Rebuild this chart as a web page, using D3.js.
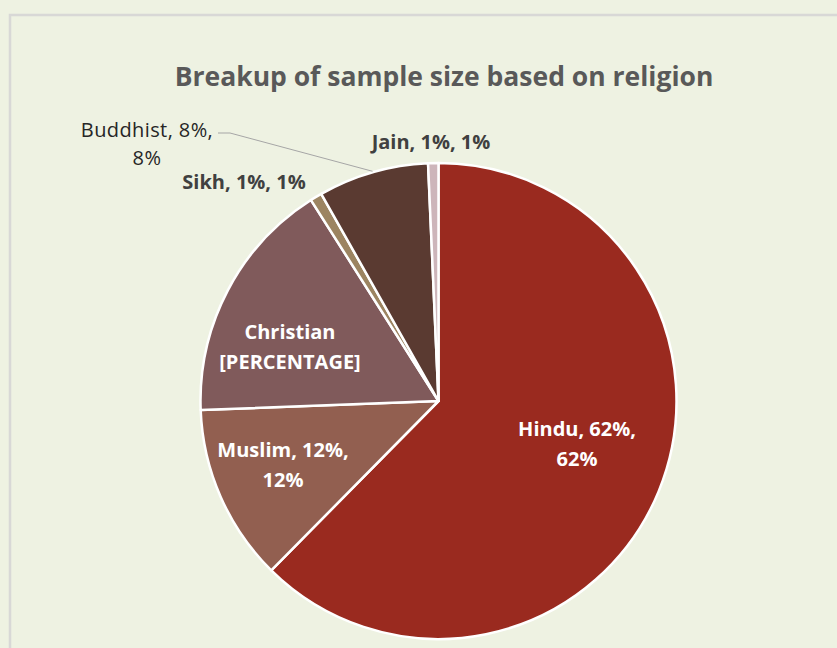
<!DOCTYPE html>
<html><head><meta charset="utf-8">
<script src="https://cdn.jsdelivr.net/npm/d3@7"></script>
<style>
html,body{margin:0;padding:0;background:#eef2e2;}
svg{display:block;}
</style></head>
<body>
<svg id="chart" width="837" height="648"></svg>
<script>
const categories = ["Hindu","Muslim","Christian","Sikh","Buddhist","Jain"];
const values = [62.4, 12.0, 16.6, 0.8, 7.5, 0.7];
const labelLines = [
  ["Hindu, 62%,","62%"],
  ["Muslim, 12%,","12%"],
  ["Christian","[PERCENTAGE]"],
  ["Sikh, 1%, 1%"],
  ["Buddhist, 8%,","8%"],
  ["Jain, 1%, 1%"]
];
const colors = ["#9a2a1f","#925f50","#805a5b","#9c8461","#5a3a31","#cdb5ba"];
const title = "Breakup of sample size based on religion";

const svg = d3.select("#chart");
const W = 837, H = 648;
const font = "'Open Sans', Lato, sans-serif";

svg.append("rect").attr("width",W).attr("height",H).attr("fill","#eef2e2");
svg.append("path").attr("d","M10,648 V15 H837").attr("fill","none")
  .attr("stroke","#d8d8d6").attr("stroke-width",2.5);

svg.append("text").attr("x",444).attr("y",86).attr("text-anchor","middle")
  .attr("font-family",font).attr("font-weight",700).attr("font-size",26.5)
  .attr("fill","#595959").text(title);

const cx = 438.5, cy = 401, R = 238;
const data = categories.map((c,i)=>({name:c, value:values[i], lines:labelLines[i], color:colors[i]}));
const pie = d3.pie().value(d=>d.value).sort(null);
const arc = d3.arc().innerRadius(0).outerRadius(R);
const arcs = pie(data);

const g = svg.append("g").attr("transform",`translate(${cx},${cy})`);
g.selectAll("path.slice").data(arcs).join("path").attr("class","slice")
  .attr("d",arc).attr("fill",d=>d.data.color)
  .attr("stroke","#ffffff").attr("stroke-width",2.5).attr("stroke-linejoin","round");

const outside = {
  "Sikh": {x:244, y:189, color:"#404040", weight:700},
  "Buddhist": {x:147, y:137, color:"#262626", weight:400},
  "Jain": {x:431, y:149, color:"#404040", weight:700}
};
const inside = {
  "Hindu": [577, 436],
  "Muslim": [283, 457],
  "Christian": [290, 339]
};
arcs.forEach(a=>{
  const name = a.data.name;
  let x,y,fill,weight;
  if (inside[name]) { [x,y] = inside[name]; fill="#ffffff"; weight=700; }
  else { const o = outside[name]; x=o.x; y=o.y; fill=o.color; weight=o.weight; }
  const t = svg.append("text").attr("text-anchor","middle")
    .attr("font-family",font).attr("font-size",20).attr("font-weight",weight)
    .attr("letter-spacing", weight===700 ? 0 : 0.4)
    .attr("fill",fill);
  a.data.lines.forEach((ln,i)=>{
    t.append("tspan").attr("x",x).attr("y",y+i*(name==="Buddhist"?28:30)).text(ln);
  });
});

const bArc = arcs[4];
const ang = (bArc.startAngle + bArc.endAngle)/2;
const ex = cx + Math.sin(ang)*(R+1), ey = cy - Math.cos(ang)*(R+1);
svg.append("polyline").attr("points",`218,133 230,133 ${ex},${ey}`)
  .attr("fill","none").attr("stroke","#a6a6a6").attr("stroke-width",1);
</script>
</body></html>
